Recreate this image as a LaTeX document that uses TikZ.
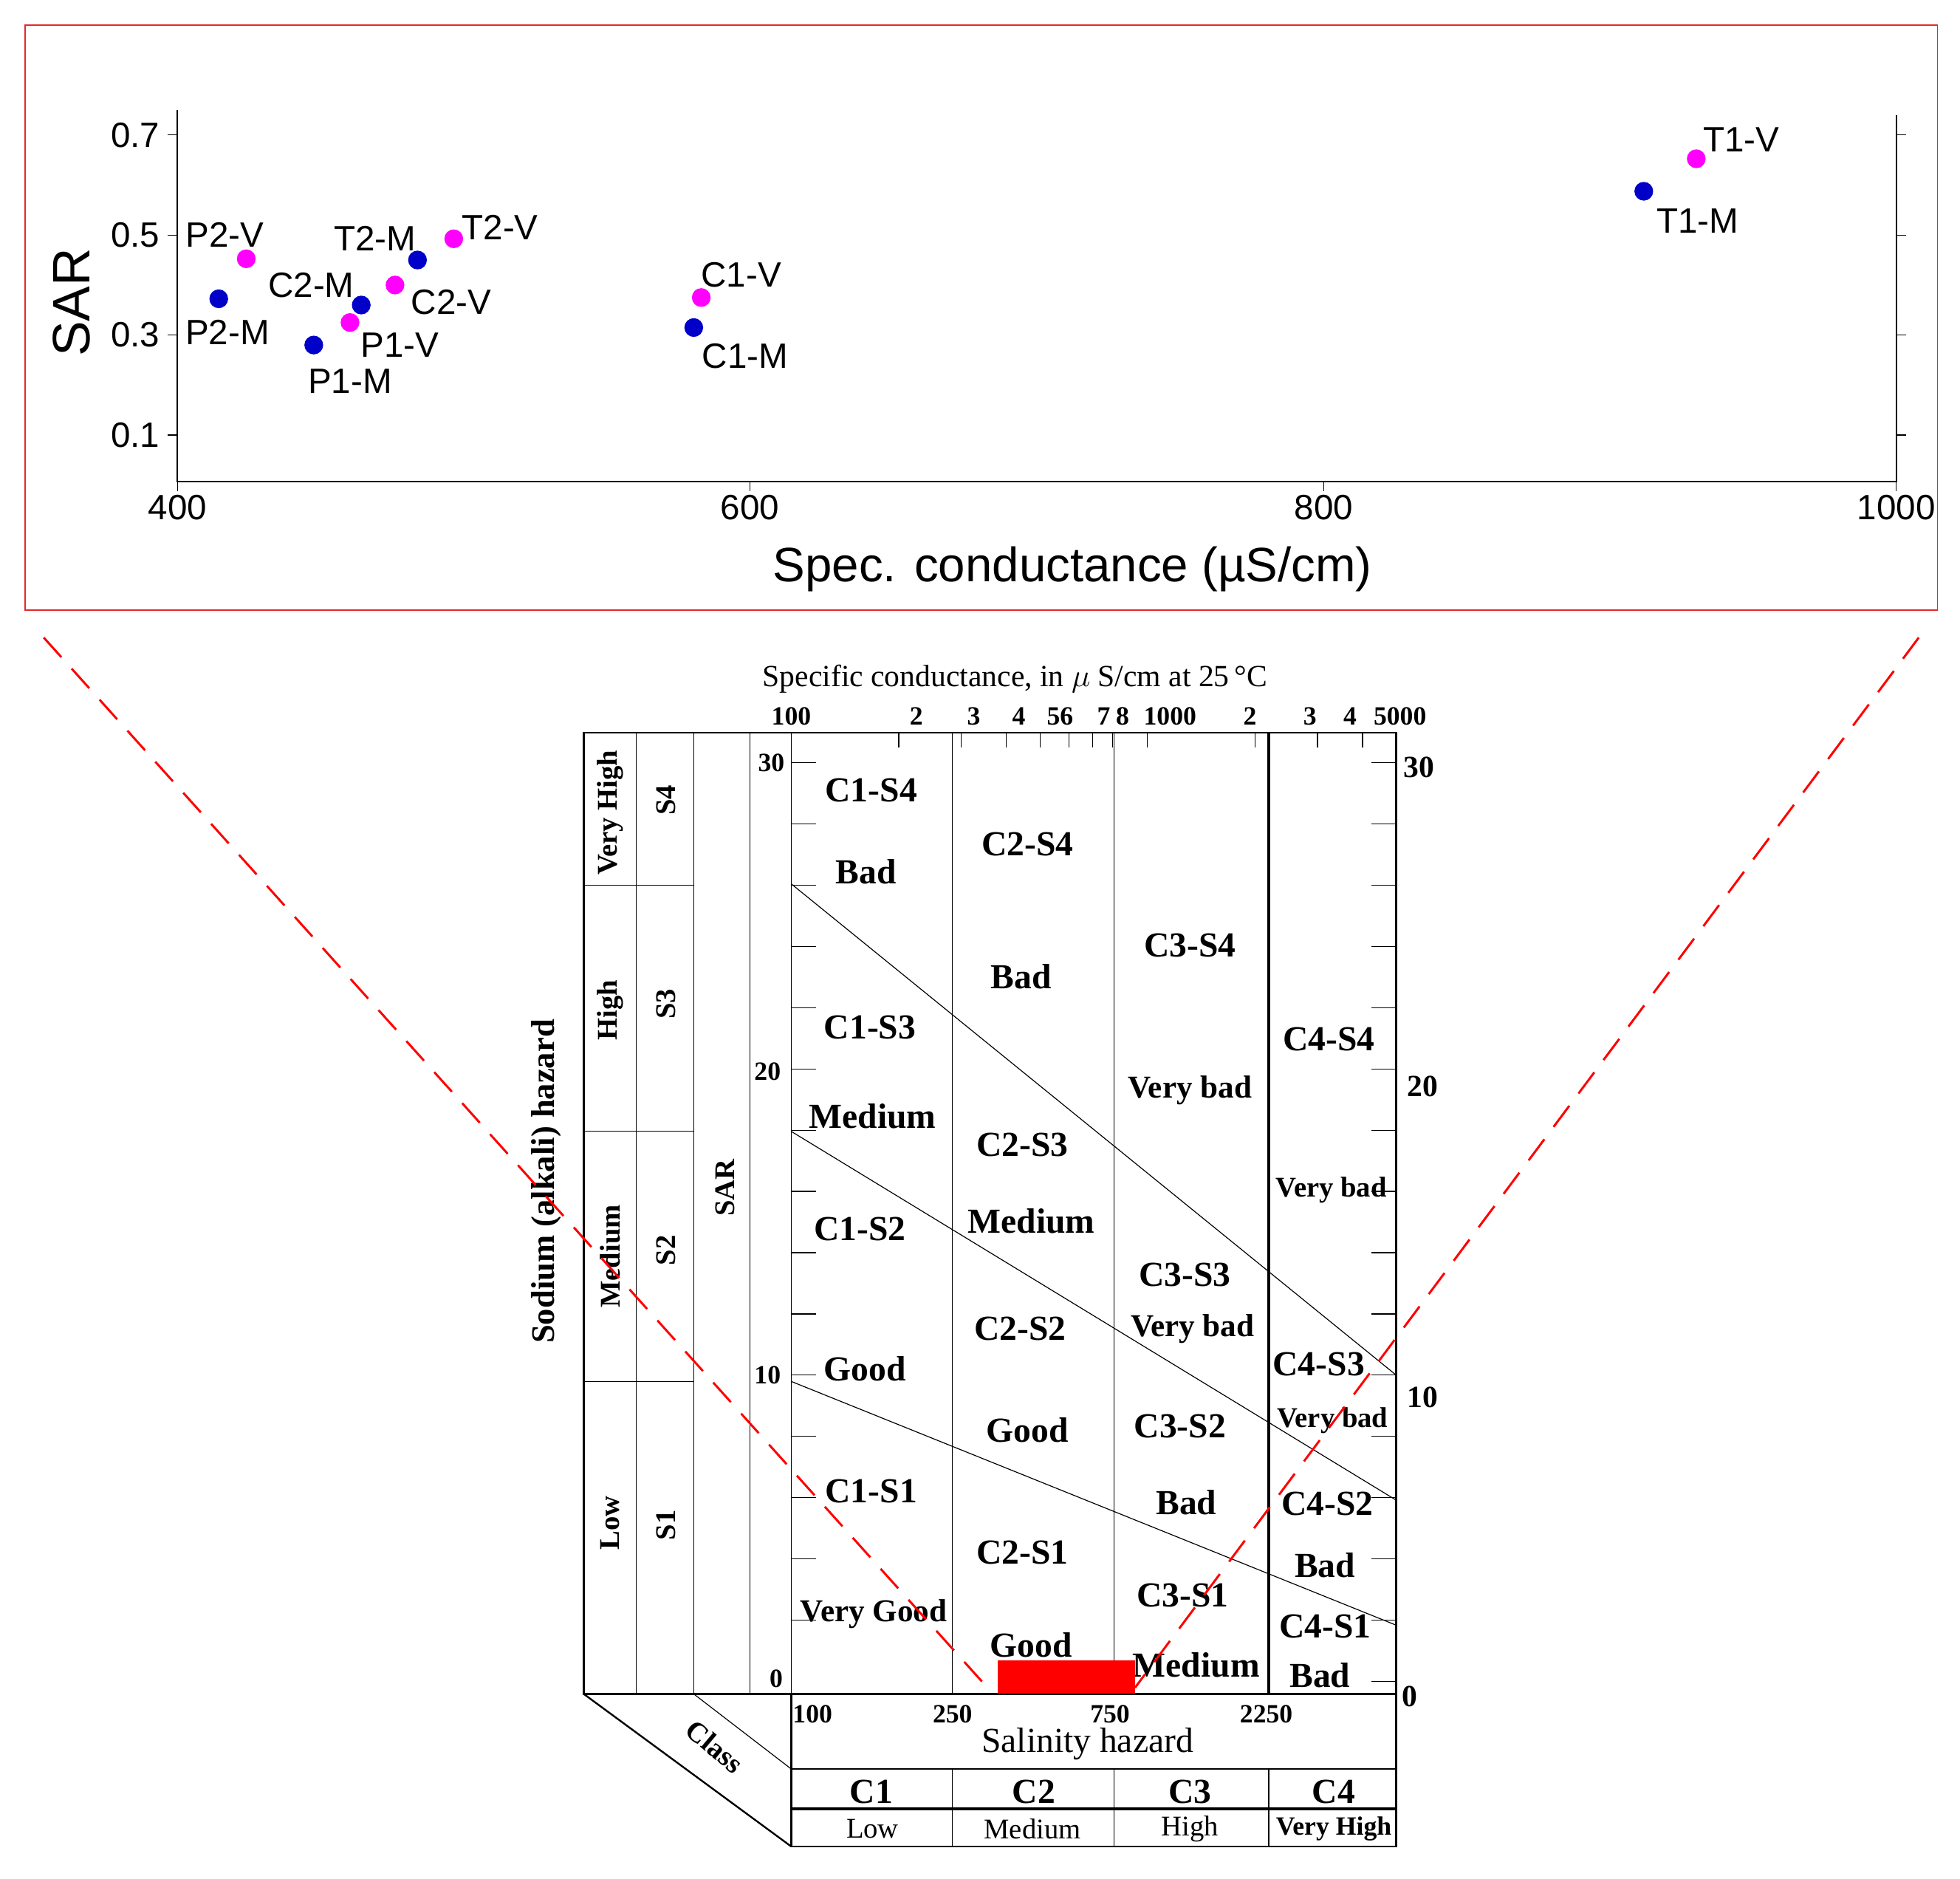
\documentclass[tikz,border=0pt]{standalone}
\usepackage{fontspec}
\setmainfont{Liberation Serif}
\newfontfamily\mysans{Liberation Sans}
\begin{document}
\begin{tikzpicture}[x=0.02cm,y=-0.02cm,
 sanslab/.style={font=\mysans\fontsize{16}{16}\selectfont},
 zl/.style={font=\bfseries\fontsize{16}{16}\selectfont,inner sep=0pt},
 zs/.style={font=\bfseries\fontsize{13}{13}\selectfont,inner sep=0pt},
 zm/.style={font=\bfseries\fontsize{14.5}{14.5}\selectfont,inner sep=0pt},
 num/.style={font=\bfseries\fontsize{12}{12}\selectfont,inner sep=0pt},
 bot/.style={font=\fontsize{13}{13}\selectfont,inner sep=0pt},
 mag/.style={circle,fill={rgb,255:red,255;green,0;blue,255},inner sep=0pt,minimum size=0.3cm},
 blu/.style={circle,fill={rgb,255:red,0;green,0;blue,200},inner sep=0pt,minimum size=0.3cm},
 rd/.style={draw={rgb,255:red,230;green,40;blue,40}}]
\useasboundingbox (0,0) rectangle (1568,1503);
% ---------- top panel ----------
\draw[rd,line width=0.6pt] (20,20) rectangle (1550,488);
\draw[line width=0.6pt] (142,88)--(142,385)--(1517,385)--(1517,92);
\foreach \v/\y in {0.7/108,0.5/188,0.3/268,0.1/348}{
 \draw (134,\y)--(142,\y); \draw (1517,\y)--(1525,\y);
 \node[sanslab,anchor=east] at (134,\y) {\v};}
\foreach \v/\x in {400/142,600/600,800/1059,1000/1517}{
 \draw (\x,385)--(\x,393);
 \node[sanslab] at (\x,406) {\v};}
\node[font=\mysans\fontsize{24}{24}\selectfont,rotate=90] at (57,242) {SAR};
\node[font=\mysans\fontsize{22}{22}\selectfont] at (858,455) {Spec. conductance (µS/cm)};
\node[mag] (p2v) at (197,207) {}; \node[sanslab] at (180,188) {P2-V};
\node[blu] (p2m) at (175,239) {}; \node[sanslab] at (182,266) {P2-M};
\node[blu] (p1m) at (251,276) {}; \node[sanslab] at (280,305) {P1-M};
\node[mag] (p1v) at (280,258) {}; \node[sanslab] at (320,276) {P1-V};
\node[blu] (c2m) at (289,244) {}; \node[sanslab] at (249,228) {C2-M};
\node[mag] (c2v) at (316,228) {}; \node[sanslab] at (361,242) {C2-V};
\node[blu] (t2m) at (334,208) {}; \node[sanslab] at (300,191) {T2-M};
\node[mag] (t2v) at (363,191) {}; \node[sanslab] at (400,182) {T2-V};
\node[mag] (c1v) at (561,238) {}; \node[sanslab] at (593,220) {C1-V};
\node[blu] (c1m) at (555,262) {}; \node[sanslab] at (596,285) {C1-M};
\node[mag] (t1v) at (1357,127) {}; \node[sanslab] at (1393,112) {T1-V};
\node[blu] (t1m) at (1315,153) {}; \node[sanslab] at (1358,177) {T1-M};
% ---------- bottom diagram ----------
\draw[line width=0.8pt] (467,586) rectangle (1117,1355);
\foreach \x in {509,555,600,633} \draw (\x,586)--(\x,1355);
\foreach \y in {708,905,1105} \draw (467,\y)--(555,\y);
\draw (762,586)--(762,1355); \draw (891,586)--(891,1355);
\draw[line width=1.2pt] (1015,586)--(1015,1355);
\draw[line width=0.8pt] (467,1355)--(633,1477); \draw (555,1355)--(633,1415);
\draw[line width=0.8pt] (633,1355) rectangle (1117,1477);
\draw (633,1415)--(1117,1415); \draw[line width=1.2pt] (633,1447)--(1117,1447);
\foreach \x in {762,891,1015} \draw (\x,1415)--(\x,1477);
% SAR ticks
\foreach \i in {1,...,15}{
 \pgfmathsetmacro\yy{1345-24.5*2*\i}
 \draw (633,\yy)--(653,\yy); \draw (1097,\yy)--(1117,\yy);}
\draw (1097,1345)--(1117,1345);
\node[num] at (617,610) {30}; \node[num] at (614,857) {20};
\node[num] at (614,1100) {10}; \node[num] at (621,1343) {0};
\node[num,font=\bfseries\fontsize{14}{14}\selectfont] at (1135,614) {30};
\node[num,font=\bfseries\fontsize{14}{14}\selectfont] at (1138,869) {20};
\node[num,font=\bfseries\fontsize{14}{14}\selectfont] at (1138,1118) {10};
\node[num,font=\bfseries\fontsize{14}{14}\selectfont] at (1128,1357) {0};
% top log ticks
\foreach \x in {719,769,805,832,855,874,890,918,1004,1054,1090} \draw (\x,586)--(\x,598);
\foreach \t/\x in {100/633,2/733,3/779,4/815,56/848,7/883,8/898,1000/936,2/1000,3/1048,4/1080,5000/1120}
 \node[num] at (\x,573) {\t};
\node[font=\fontsize{14}{14}\selectfont] at (812,543) {Specific conductance, in $\mu$ S/cm at 25\,°C};
% diagonal lines
\draw (633,707)--(1117,1100); \draw (633,905)--(1117,1200); \draw (633,1105)--(1117,1300);
% left columns
\foreach \t/\x/\y in {Very High/488/650,S4/533/640,High/488/808,S3/533/803,Medium/488/1005,S2/533/1000,Low/488/1218,S1/533/1220,SAR/580/950}
 \node[zs,rotate=90] at (\x,\y) {\t};
\node[zl,rotate=90,font=\bfseries\fontsize{15}{15}\selectfont] at (437,945) {Sodium (alkali) hazard};
\node[zs,rotate=-40] at (572,1397) {Class};
% zone labels
\foreach \s/\t/\x/\y in {zl/C1-S4/697/632,zl/Bad/693/697,zl/C2-S4/822/675,zl/Bad/817/781,zl/C3-S4/952/756,zl/C1-S3/696/822,zl/C4-S4/1063/831,zm/Very bad/952/872,zl/Medium/698/893,zl/C2-S3/818/916,zs/Very bad/1065/952,zl/Medium/825/977,zl/C1-S2/688/983,zl/C3-S3/948/1020,zl/C2-S2/816/1063,zm/Very bad/954/1063,zl/C4-S3/1055/1091,zl/Good/692/1095,zs/Very bad/1066/1136,zl/C3-S2/944/1141,zl/Good/822/1144,zl/C1-S1/697/1193,zl/Bad/949/1202,zl/C4-S2/1062/1203,zl/C2-S1/818/1242,zl/Bad/1060/1252,zl/C3-S1/946/1276,zm/Very Good/699/1291,zl/C4-S1/1060/1301,zl/Good/825/1316,zl/Medium/957/1332,zl/Bad/1056/1340}
 \node[\s] at (\x,\y) {\t};
% bottom labels
\foreach \t/\x in {100/650,250/762,750/888,2250/1013} \node[num] at (\x,1371) {\t};
\node[font=\fontsize{16}{16}\selectfont] at (870,1395) {Salinity hazard};
\foreach \t/\x in {C1/697,C2/827,C3/952,C4/1067} \node[zl] at (\x,1433) {\t};
\node[bot] at (698,1463) {Low}; \node[bot] at (826,1463) {Medium};
\node[bot] at (952,1463) {High}; \node[zs,font=\bfseries\fontsize{12}{12}\selectfont] at (1067,1463) {Very High};
% red zoom marks
\fill[red] (798,1328) rectangle (908,1355);
\coordinate (l1) at (35,510); \coordinate (l2) at (790,1350);
\coordinate (r1) at (1535,510); \coordinate (r2) at (908,1350);
\draw[red,line width=1pt,dash pattern=on 12pt off 7pt] (l1)--(l2) (r1)--(r2);
\end{tikzpicture}
\end{document}
